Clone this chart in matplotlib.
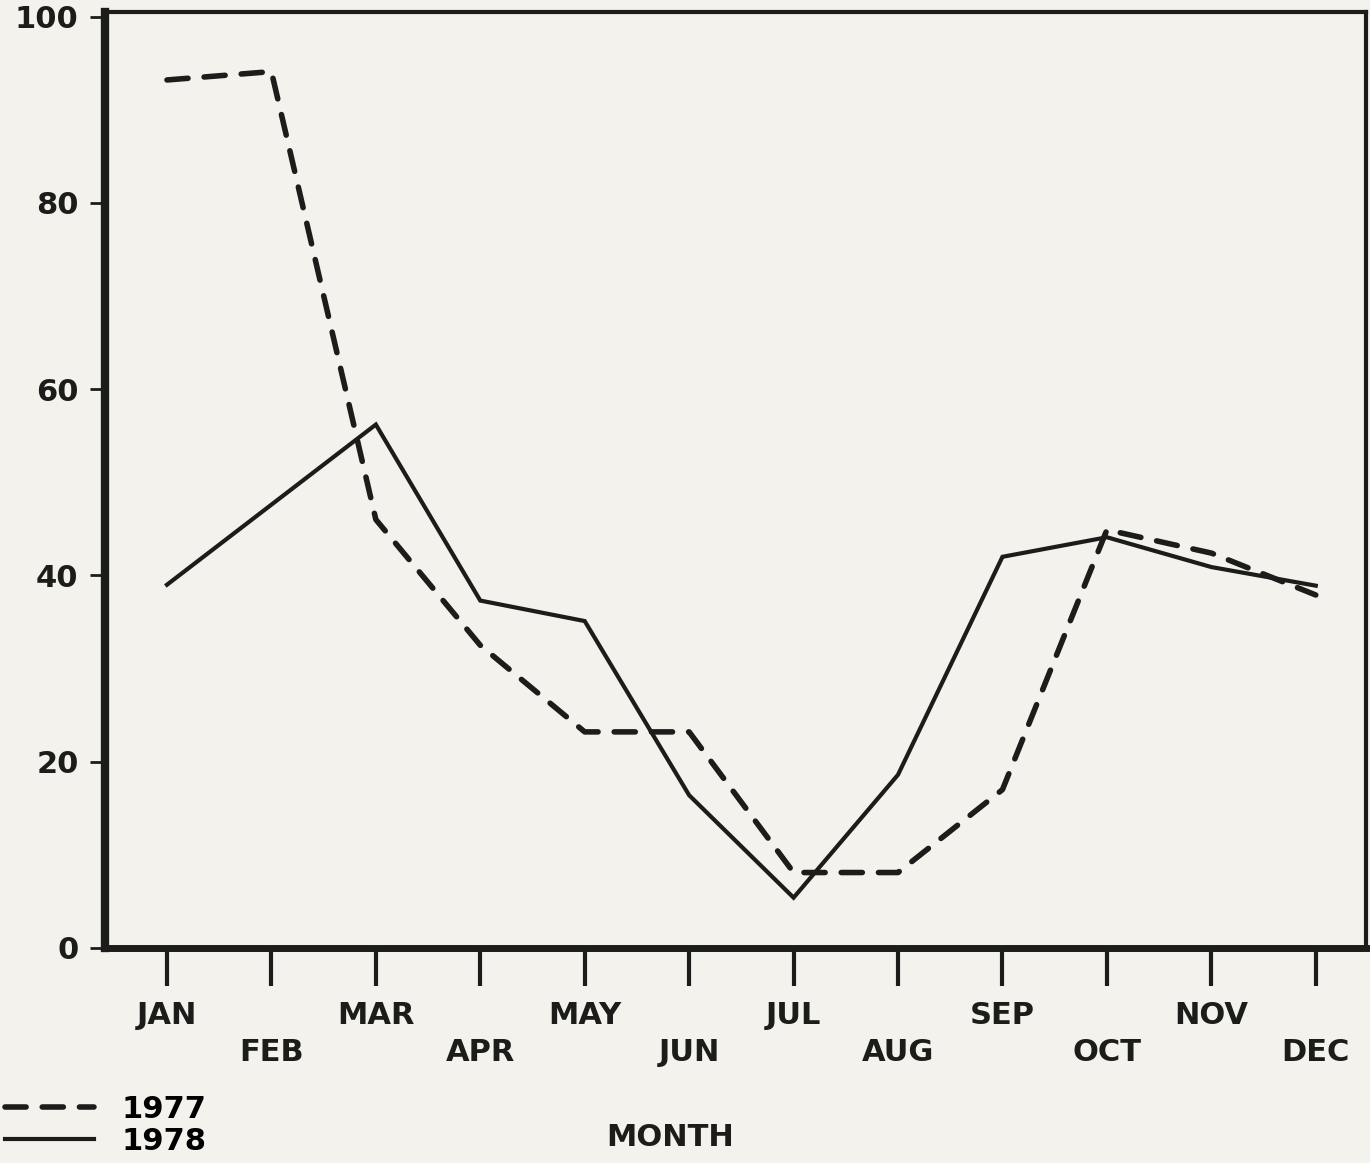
import matplotlib
matplotlib.use("Agg")
import matplotlib.pyplot as plt
from matplotlib.lines import Line2D

# monthly values
months = ['JAN', 'FEB', 'MAR', 'APR', 'MAY', 'JUN',
          'JUL', 'AUG', 'SEP', 'OCT', 'NOV', 'DEC']
vals_1977 = [93.2, 94.1, 46.0, 32.5, 23.2, 23.2, 8.1, 8.1, 17.0, 44.9, 42.4, 37.9]
vals_1978 = [39.0, 47.6, 56.2, 37.3, 35.1, 16.4, 5.4, 18.6, 42.0, 44.1, 40.9, 38.9]
y_ticks = [0, 20, 40, 60, 80, 100]

ink = '#1c1c1a'
paper = '#f4f2ed'
plt.rcParams['font.family'] = ['DejaVu Sans']
plt.rcParams['font.weight'] = 'bold'

fig = plt.figure(figsize=(13.7, 11.63), dpi=100, facecolor=paper)
ax = fig.add_axes([0.0766, 0.1849, 0.9204, 0.8048])
ax.set_facecolor(paper)

x = list(range(len(months)))
dash = (0, (3.8, 2.9))
ax.plot(x, vals_1977, color=ink, lw=4.0, linestyle=dash,
        dash_capstyle='round', solid_joinstyle='round')
ax.plot(x, vals_1978, color=ink, lw=3.0, solid_joinstyle='miter')

ax.set_xlim(-0.594, 11.48)
ax.set_ylim(0, 100.5)

# spines: heavy plotter frame
for side, w in [('left', 6.0), ('bottom', 5.0), ('top', 3.0), ('right', 3.0)]:
    ax.spines[side].set_linewidth(w)
    ax.spines[side].set_color(ink)

ax.set_xticks(x)
ax.set_xticklabels(months, fontsize=22, fontweight='bold', color=ink)
ax.tick_params(axis='x', direction='out', length=27, width=3.0,
               color=ink, pad=11)
for t in ax.xaxis.get_major_ticks()[1::2]:
    t.set_pad(38)

ax.set_yticks(y_ticks)
ax.set_yticklabels([str(v) for v in y_ticks], fontsize=22,
                   fontweight='bold', color=ink)
ax.tick_params(axis='y', direction='out', length=11, width=2.0,
               color=ink, pad=8)

ax.set_xlabel('MONTH', fontsize=22, fontweight='bold', color=ink)
ax.xaxis.set_label_coords(0.448, -0.187)

# legend in the lower left corner
handles = [Line2D([], [], color=ink, lw=4.0, linestyle=dash, dash_capstyle='round'),
           Line2D([], [], color=ink, lw=3.0)]
fig.legend(handles, ['1977', '1978'], loc='lower left',
           bbox_to_anchor=(-0.012, -0.012), frameon=False,
           fontsize=22, handlelength=2.9, handletextpad=0.9,
           labelspacing=0.1, borderpad=0.2)

fig.savefig('out.png', dpi=100, facecolor=paper)
